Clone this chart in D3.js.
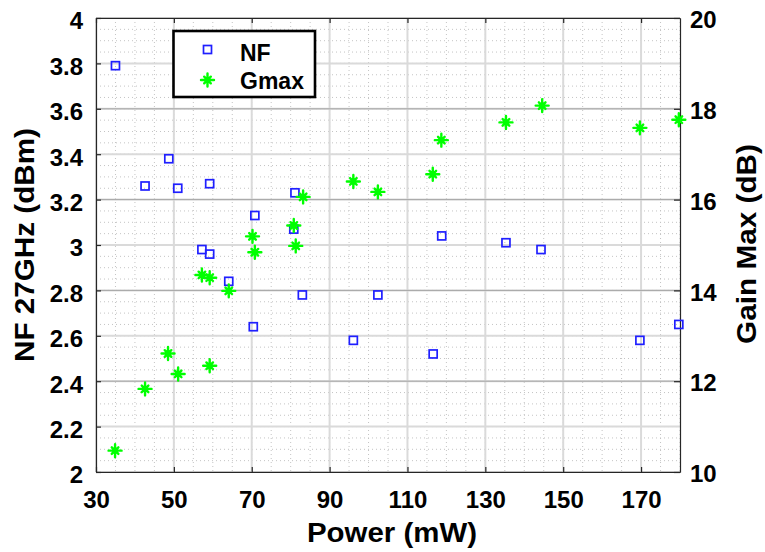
<!DOCTYPE html>
<html>
<head>
<meta charset="utf-8">
<script src="https://cdn.jsdelivr.net/npm/d3@7"></script>
<style>
  html, body { margin: 0; padding: 0; background: #fff; }
  svg { display: block; }
  text { font-family: "Liberation Sans", Arial, Helvetica, sans-serif; font-weight: bold; fill: #000; }
</style>
</head>
<body>
<svg id="chart" width="765" height="552"></svg>
<script>
// Noise figure measurements (left axis)
const nfPower  = [35, 42.6, 48.7, 51.0, 59.2, 57.2, 59.2, 64.1, 70.8, 70.4, 81.1, 80.8, 83.0, 96.1, 102.4, 116.6, 118.8, 135.3, 144.3, 169.7, 179.7];
const nfValues = [3.79, 3.26, 3.38, 3.25, 3.27, 2.98, 2.96, 2.84, 3.13, 2.64, 3.23, 3.07, 2.78, 2.58, 2.78, 2.52, 3.04, 3.01, 2.98, 2.58, 2.65];

// Maximum gain measurements (right axis)
const gmaxPower  = [34.9, 42.6, 48.5, 51.1, 59.2, 57.2, 59.2, 64.1, 70.8, 70.2, 80.8, 81.3, 83.2, 96.1, 102.4, 116.5, 118.7, 135.3, 144.6, 169.7, 179.7];
const gmaxValues = [10.47, 11.83, 12.61, 12.16, 12.34, 14.34, 14.28, 13.99, 14.84, 15.19, 15.43, 14.98, 16.06, 16.40, 16.17, 16.56, 17.31, 17.70, 18.07, 17.58, 17.76];

// Axis ticks
const xTicks = [30, 50, 70, 90, 110, 130, 150, 170];
const nfTicks = [2, 2.2, 2.4, 2.6, 2.8, 3, 3.2, 3.4, 3.6, 3.8, 4];
const gainTicks = [10, 12, 14, 16, 18, 20];
const xMinorTicks = d3.range(30, 180.01, 5);
const nfMinorTicks = d3.range(2, 4.001, 0.05);

const seriesNames = ["NF", "Gmax"];
const xTitle = "Power (mW)";
const yLeftTitle = "NF 27GHz (dBm)";
const yRightTitle = "Gain Max (dB)";

const svg = d3.select("#chart");
const plot = { left: 96, right: 680, top: 18, bottom: 472 };

const x = d3.scaleLinear().domain([30, 180]).range([plot.left, plot.right]);
const yL = d3.scaleLinear().domain([2, 4]).range([plot.bottom, plot.top]);
const yR = d3.scaleLinear().domain([10, 20]).range([plot.bottom, plot.top]);

const blue = "#1f1fff";
const green = "#00ff00";

// plot background
svg.append("rect")
  .attr("x", plot.left).attr("y", plot.top)
  .attr("width", plot.right - plot.left).attr("height", plot.bottom - plot.top)
  .attr("fill", "#fff");

// minor grid (dotted)
const grid = svg.append("g");
grid.selectAll(".vminor").data(xMinorTicks).join("line")
  .attr("x1", d => x(d)).attr("x2", d => x(d))
  .attr("y1", plot.top).attr("y2", plot.bottom)
  .attr("stroke", "#c4c4c4").attr("stroke-width", 1).attr("stroke-dasharray", "1,3");
grid.selectAll(".hminor").data(nfMinorTicks).join("line")
  .attr("x1", plot.left).attr("x2", plot.right)
  .attr("y1", d => yL(d)).attr("y2", d => yL(d))
  .attr("stroke", "#c4c4c4").attr("stroke-width", 1).attr("stroke-dasharray", "1,3");

// major grid
grid.selectAll(".vmajor").data(xTicks).join("line")
  .attr("x1", d => x(d)).attr("x2", d => x(d))
  .attr("y1", plot.top).attr("y2", plot.bottom)
  .attr("stroke", "#dadada").attr("stroke-width", 2);
grid.selectAll(".hmajor").data(nfTicks).join("line")
  .attr("x1", plot.left).attr("x2", plot.right)
  .attr("y1", d => yL(d)).attr("y2", d => yL(d))
  .attr("stroke", "#dadada").attr("stroke-width", 2);
grid.selectAll(".hmajorR").data(gainTicks).join("line")
  .attr("x1", plot.left).attr("x2", plot.right)
  .attr("y1", d => yR(d)).attr("y2", d => yR(d))
  .attr("stroke", "#a6a6a6").attr("stroke-width", 1);

// axes with inward ticks
const tickFont = "24px";
const axisColor = "#262626";

const xAxis = svg.append("g").attr("transform", `translate(0,${plot.bottom})`)
  .call(d3.axisBottom(x).tickValues(xTicks).tickSizeInner(-5).tickSizeOuter(0).tickPadding(19).tickFormat(d3.format("d")));
const xAxisTop = svg.append("g").attr("transform", `translate(0,${plot.top})`)
  .call(d3.axisTop(x).tickValues(xTicks).tickSizeInner(-5).tickSizeOuter(0).tickFormat(""));
const yAxisL = svg.append("g").attr("transform", `translate(${plot.left},0)`)
  .call(d3.axisLeft(yL).tickValues(nfTicks).tickSizeInner(-5).tickSizeOuter(0).tickPadding(13).tickFormat(d => String(+d.toFixed(1))));
const yAxisR = svg.append("g").attr("transform", `translate(${plot.right},0)`)
  .call(d3.axisRight(yR).tickValues(gainTicks).tickSizeInner(-6).tickSizeOuter(0).tickPadding(10).tickFormat(d3.format("d")));

[xAxis, xAxisTop, yAxisL, yAxisR].forEach(g => {
  g.select(".domain").attr("stroke", axisColor).attr("stroke-width", 1.2);
  g.selectAll(".tick line").attr("stroke", axisColor).attr("stroke-width", 1.2);
  g.selectAll(".tick text").attr("font-size", tickFont).attr("font-family", null).attr("fill", "#000");
});
xAxis.selectAll(".tick text").attr("dy", "0.71em");
yAxisL.selectAll(".tick text").attr("dy", "0.45em");
yAxisR.selectAll(".tick text").attr("dy", "0.4em");

// series: NF squares
const sq = 8;
svg.append("g").selectAll("rect").data(nfPower.map((p, i) => [p, nfValues[i]])).join("rect")
  .attr("x", d => x(d[0]) - sq / 2).attr("y", d => yL(d[1]) - sq / 2)
  .attr("width", sq).attr("height", sq)
  .attr("fill", "none").attr("stroke", blue).attr("stroke-width", 1.7);

// series: Gmax asterisks
const starPath = "M0,-6.5L0,6.5M-6.5,0L6.5,0M-3.3,-3.3L3.3,3.3M-3.3,3.3L3.3,-3.3";
svg.append("g").selectAll("path").data(gmaxPower.map((p, i) => [p, gmaxValues[i]])).join("path")
  .attr("transform", d => `translate(${x(d[0])},${yR(d[1])})`)
  .attr("d", starPath)
  .attr("fill", "none").attr("stroke", green).attr("stroke-width", 2.4).attr("stroke-linecap", "round");

// axis titles
svg.append("text")
  .attr("x", 392).attr("y", 542).attr("text-anchor", "middle")
  .attr("font-size", "27px").attr("textLength", 170).attr("lengthAdjust", "spacingAndGlyphs")
  .text(xTitle);
svg.append("text")
  .attr("transform", "translate(34,245) rotate(-90)").attr("text-anchor", "middle")
  .attr("font-size", "27px").attr("textLength", 234).attr("lengthAdjust", "spacingAndGlyphs")
  .text(yLeftTitle);
svg.append("text")
  .attr("transform", "translate(756,244) rotate(-90)").attr("text-anchor", "middle")
  .attr("font-size", "27px").attr("textLength", 200).attr("lengthAdjust", "spacingAndGlyphs")
  .text(yRightTitle);

// legend
const legend = svg.append("g");
legend.append("rect")
  .attr("x", 173.5).attr("y", 31).attr("width", 141.5).attr("height", 66)
  .attr("fill", "#fff").attr("stroke", "#000").attr("stroke-width", 2.6);
legend.append("rect")
  .attr("x", 207.5 - sq / 2).attr("y", 49.5 - sq / 2).attr("width", sq).attr("height", sq)
  .attr("fill", "none").attr("stroke", blue).attr("stroke-width", 1.7);
legend.append("path")
  .attr("transform", "translate(207.5,80)").attr("d", starPath)
  .attr("fill", "none").attr("stroke", green).attr("stroke-width", 2.4).attr("stroke-linecap", "round");
legend.selectAll("text.lbl").data(seriesNames).join("text")
  .attr("x", 240).attr("y", (d, i) => i === 0 ? 61 : 89)
  .attr("font-size", "23px")
  .text(d => d);
</script>
</body>
</html>
